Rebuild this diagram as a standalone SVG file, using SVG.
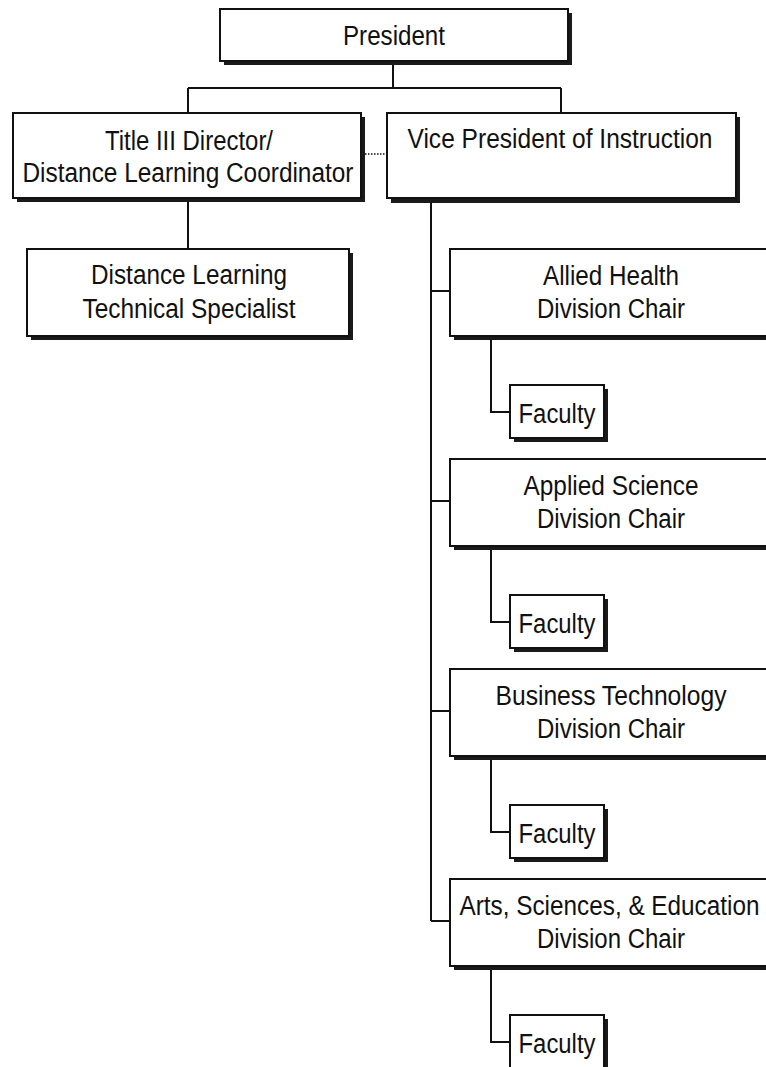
<svg xmlns="http://www.w3.org/2000/svg" width="766" height="1067" viewBox="0 0 766 1067">
<defs>
<style>
.sh{fill:#1a1a1a;}
.bx{fill:#fff;stroke:#111;stroke-width:2;}
.t{font-family:"Liberation Sans",Arial,sans-serif;font-size:27px;fill:#111;text-anchor:middle;}
.ln{fill:none;stroke:#111;stroke-width:2;}
.dot{fill:none;stroke:#111;stroke-width:1.5;stroke-dasharray:1.5 1.5;}
</style>
</defs>
<rect width="766" height="1067" fill="#fff"/>
<g id="connectors">
<path class="ln" d="M393 63V88M188 88H561M188 88V113M561 88V113"/>
<path class="ln" d="M188 200V249"/>
<line class="dot" x1="365" y1="154" x2="387" y2="154"/>
<path class="ln" d="M431 200V921"/>
<path class="ln" d="M431 291H450M431 501H450M431 711H450M431 921H450"/>
<path class="ln" d="M491 338V412H510M491 548V622H510M491 758V832H510M491 968V1042H510"/>
</g>
<g id="president">
<rect class="sh" x="224" y="13" width="348" height="52"/>
<rect class="bx" x="220" y="9" width="348" height="52"/>
<text class="t" x="394" y="45" textLength="102" lengthAdjust="spacingAndGlyphs">President</text>
</g>
<g id="title3">
<rect class="sh" x="17" y="117" width="348" height="85"/>
<rect class="bx" x="13" y="113" width="348" height="85"/>
<text class="t" x="189" y="150" textLength="168" lengthAdjust="spacingAndGlyphs">Title III Director/</text>
<text class="t" x="188" y="182" textLength="331" lengthAdjust="spacingAndGlyphs">Distance Learning Coordinator</text>
</g>
<g id="vpi">
<rect class="sh" x="391" y="117" width="349" height="86"/>
<rect class="bx" x="387" y="113" width="349" height="85"/>
<text class="t" x="560" y="148" textLength="305" lengthAdjust="spacingAndGlyphs">Vice President of Instruction</text>
</g>
<g id="dlts">
<rect class="sh" x="31" y="253" width="322" height="87"/>
<rect class="bx" x="27" y="249" width="322" height="87"/>
<text class="t" x="189" y="284" textLength="196" lengthAdjust="spacingAndGlyphs">Distance Learning</text>
<text class="t" x="189" y="318" textLength="213" lengthAdjust="spacingAndGlyphs">Technical Specialist</text>
</g>
<g id="allied">
<rect class="sh" x="454" y="253" width="322" height="87"/>
<rect class="bx" x="450" y="249" width="322" height="87"/>
<text class="t" x="611" y="285" textLength="136" lengthAdjust="spacingAndGlyphs">Allied Health</text>
<text class="t" x="611" y="318" textLength="148" lengthAdjust="spacingAndGlyphs">Division Chair</text>
</g>
<g id="allied-faculty">
<rect class="sh" x="514" y="389" width="94" height="53"/>
<rect class="bx" x="510" y="385" width="94" height="53"/>
<text class="t" x="557" y="423" textLength="77" lengthAdjust="spacingAndGlyphs">Faculty</text>
</g>
<g id="applied">
<rect class="sh" x="454" y="463" width="322" height="87"/>
<rect class="bx" x="450" y="459" width="322" height="87"/>
<text class="t" x="611" y="495" textLength="175" lengthAdjust="spacingAndGlyphs">Applied Science</text>
<text class="t" x="611" y="528" textLength="148" lengthAdjust="spacingAndGlyphs">Division Chair</text>
</g>
<g id="applied-faculty">
<rect class="sh" x="514" y="599" width="94" height="53"/>
<rect class="bx" x="510" y="595" width="94" height="53"/>
<text class="t" x="557" y="633" textLength="77" lengthAdjust="spacingAndGlyphs">Faculty</text>
</g>
<g id="business">
<rect class="sh" x="454" y="673" width="322" height="87"/>
<rect class="bx" x="450" y="669" width="322" height="87"/>
<text class="t" x="611" y="705" textLength="231" lengthAdjust="spacingAndGlyphs">Business Technology</text>
<text class="t" x="611" y="738" textLength="148" lengthAdjust="spacingAndGlyphs">Division Chair</text>
</g>
<g id="business-faculty">
<rect class="sh" x="514" y="809" width="94" height="53"/>
<rect class="bx" x="510" y="805" width="94" height="53"/>
<text class="t" x="557" y="843" textLength="77" lengthAdjust="spacingAndGlyphs">Faculty</text>
</g>
<g id="arts">
<rect class="sh" x="454" y="883" width="322" height="87"/>
<rect class="bx" x="450" y="879" width="322" height="87"/>
<text class="t" x="609.5" y="915" textLength="300" lengthAdjust="spacingAndGlyphs">Arts, Sciences, &amp; Education</text>
<text class="t" x="611" y="948" textLength="148" lengthAdjust="spacingAndGlyphs">Division Chair</text>
</g>
<g id="arts-faculty">
<rect class="sh" x="514" y="1019" width="94" height="53"/>
<rect class="bx" x="510" y="1015" width="94" height="53"/>
<text class="t" x="557" y="1053" textLength="77" lengthAdjust="spacingAndGlyphs">Faculty</text>
</g>
</svg>
